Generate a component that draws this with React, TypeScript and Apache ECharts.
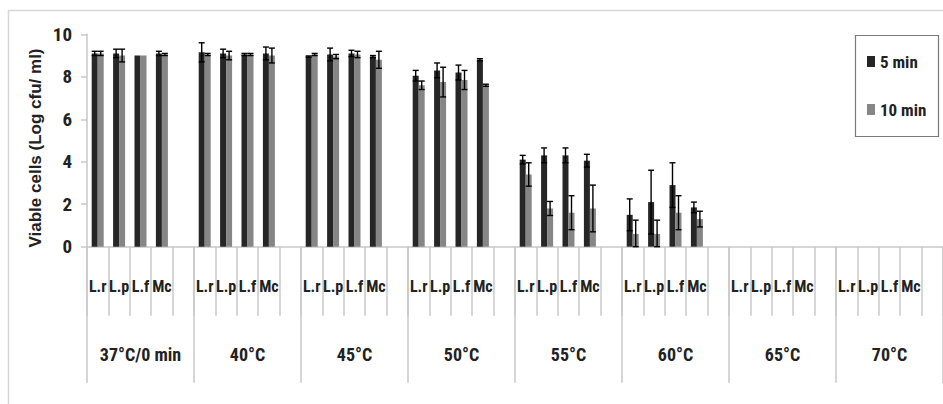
import React, { useEffect, useRef } from "react";
import * as echarts from "echarts";

const strains = ["L.r", "L.p", "L.f", "Mc"];
const temperatures = ["37°C/0 min", "40°C", "45°C", "50°C", "55°C", "60°C", "65°C", "70°C"];
const seriesNames = ["5 min", "10 min"];
const yTicks = { min: 0, max: 10, interval: 2 };

// values per strain (L.r, L.p, L.f, Mc) for each temperature, in order
const fiveMin = [
  9.1, 9.1, 9.0, 9.1,
  9.15, 9.1, 9.05, 9.1,
  8.95, 9.05, 9.1, 8.95,
  8.05, 8.3, 8.2, 8.8,
  4.1, 4.3, 4.3, 4.05,
  1.5, 2.1, 2.9, 1.85,
  null, null, null, null,
  null, null, null, null,
];
const fiveMinErr = [
  0.1, 0.2, 0, 0.1,
  0.45, 0.2, 0.05, 0.3,
  0.03, 0.3, 0.15, 0.05,
  0.25, 0.35, 0.35, 0.05,
  0.2, 0.35, 0.35, 0.3,
  0.75, 1.5, 1.05, 0.25,
  0, 0, 0, 0,
  0, 0, 0, 0,
];
const tenMin = [
  9.1, 9.0, 9.0, 9.05,
  9.05, 9.0, 9.05, 9.0,
  9.05, 8.95, 9.05, 8.8,
  7.6, 7.75, 7.85, 7.6,
  3.4, 1.8, 1.6, 1.8,
  0.6, 0.6, 1.6, 1.3,
  null, null, null, null,
  null, null, null, null,
];
const tenMinErr = [
  0.1, 0.3, 0, 0.05,
  0.05, 0.2, 0.05, 0.35,
  0.05, 0.1, 0.15, 0.4,
  0.2, 0.7, 0.45, 0.05,
  0.55, 0.33, 0.8, 1.1,
  0.65, 0.65, 0.8, 0.37,
  0, 0, 0, 0,
  0, 0, 0, 0,
];

const NARROW = "Roboto Condensed";

export default function App() {
  const ref = useRef<HTMLDivElement>(null);

  useEffect(() => {
    if (!ref.current) return;
    const chart = echarts.init(ref.current, undefined, { renderer: "svg" });

    // category slots: 4 strains + 1 blank slot per temperature
    const categories: string[] = [];
    const slotIndex: number[] = [];
    temperatures.forEach(() => {
      strains.forEach((s) => {
        slotIndex.push(categories.length);
        categories.push(s);
      });
      categories.push("");
    });
    const toSlots = (vals: (number | null)[]) => {
      const out: (number | null)[] = categories.map(() => null);
      vals.forEach((v, i) => (out[slotIndex[i]] = v));
      return out;
    };
    const errData = (vals: (number | null)[], errs: number[]) =>
      vals
        .map((v, i) => (v == null ? null : [slotIndex[i], v, errs[i]]))
        .filter((d) => d !== null && (d as number[])[2] > 0) as number[][];

    const BAR_W = 6;
    const errSeries = (name: string, data: number[][], offset: number) => ({
      type: "custom",
      name,
      xAxisIndex: 0,
      yAxisIndex: 0,
      z: 5,
      data,
      encode: { x: 0, y: 1 },
      renderItem: (params: any, api: any) => {
        const idx = api.value(0);
        const mean = api.value(1);
        const err = api.value(2);
        const top = api.coord([idx, mean + err]);
        const bot = api.coord([idx, Math.max(0, mean - err)]);
        const x = top[0] + offset;
        const hw = 3;
        const style = { stroke: "#000", lineWidth: 1.4 };
        return {
          type: "group",
          children: [
            { type: "line", shape: { x1: x, y1: top[1], x2: x, y2: bot[1] }, style },
            { type: "line", shape: { x1: x - hw, y1: top[1], x2: x + hw, y2: top[1] }, style },
            { type: "line", shape: { x1: x - hw, y1: bot[1], x2: x + hw, y2: bot[1] }, style },
          ],
        };
      },
    });

    chart.setOption({
      animation: false,
      backgroundColor: "#fff",
      grid: { left: 87, top: 34.3, width: 877, height: 212.4, containLabel: false },
      legend: {
        data: seriesNames,
        orient: "vertical",
        left: 867,
        top: 53,
        padding: 0,
        itemGap: 31,
        itemWidth: 8,
        itemHeight: 11,
        icon: "rect",
        textStyle: { fontFamily: NARROW, fontSize: 17, fontWeight: "bold", color: "#222" },
      },
      xAxis: [
        {
          type: "category",
          data: categories,
          position: "bottom",
          axisLine: { show: true, lineStyle: { color: "#c8c8c8", width: 1.5 } },
          axisTick: { show: true, interval: 0, length: 69, lineStyle: { color: "#c8c8c8", width: 1.5 } },
          axisLabel: {
            interval: 0,
            margin: 31,
            fontFamily: NARROW,
            fontSize: 16,
            fontWeight: "bold",
            lineHeight: 18,
            color: "#222",
          },
        },
        {
          type: "category",
          data: temperatures,
          position: "bottom",
          axisLine: { show: false },
          axisTick: { show: true, interval: 0, length: 136, lineStyle: { color: "#c8c8c8", width: 1.5 } },
          axisLabel: {
            interval: 0,
            margin: 98,
            fontFamily: NARROW,
            fontSize: 18,
            fontWeight: "bold",
            lineHeight: 19,
            color: "#222",
          },
        },
      ],
      yAxis: {
        type: "value",
        min: yTicks.min,
        max: yTicks.max,
        interval: yTicks.interval,
        axisLine: { show: true, lineStyle: { color: "#c8c8c8", width: 1.5 } },
        axisTick: { show: true, length: 6, lineStyle: { color: "#c8c8c8", width: 1.5 } },
        splitLine: { show: false },
        axisLabel: {
          margin: 15,
          fontFamily: NARROW,
          fontSize: 19,
          fontWeight: "bold",
          color: "#222",
        },
      },
      graphic: [
        {
          type: "rect",
          shape: { x: 8.5, y: 10.5, width: 1000, height: 500 },
          style: { fill: "none", stroke: "#d6d6d6", lineWidth: 1.5 },
          silent: true,
          z: -10,
        },
        {
          type: "rect",
          shape: { x: 855.5, y: 35.5, width: 83, height: 101 },
          style: { fill: "#fff", stroke: "#7a7a7a", lineWidth: 1.2 },
          silent: true,
          z: 0,
        },
        {
          type: "text",
          x: 35,
          y: 148,
          rotation: Math.PI / 2,
          style: {
            text: "Viable cells (Log cfu/ ml)",
            align: "center",
            verticalAlign: "middle",
            fontFamily: "Liberation Sans",
            fontSize: 17,
            fontWeight: "bold",
            fill: "#222",
          },
          silent: true,
        },
      ],
      series: [
        {
          name: seriesNames[0],
          type: "bar",
          data: toSlots(fiveMin),
          barWidth: BAR_W,
          barGap: "0%",
          itemStyle: { color: "#262626" },
          z: 2,
        },
        {
          name: seriesNames[1],
          type: "bar",
          data: toSlots(tenMin),
          barWidth: BAR_W,
          barGap: "0%",
          itemStyle: { color: "#868686" },
          z: 2,
        },
        errSeries("err5", errData(fiveMin, fiveMinErr), -BAR_W / 2),
        errSeries("err10", errData(tenMin, tenMinErr), BAR_W / 2),
      ],
    });

    return () => chart.dispose();
  }, []);

  return (
    <div
      ref={ref}
      style={{ position: "absolute", left: 0, top: 0, width: 943, height: 404 }}
    />
  );
}
